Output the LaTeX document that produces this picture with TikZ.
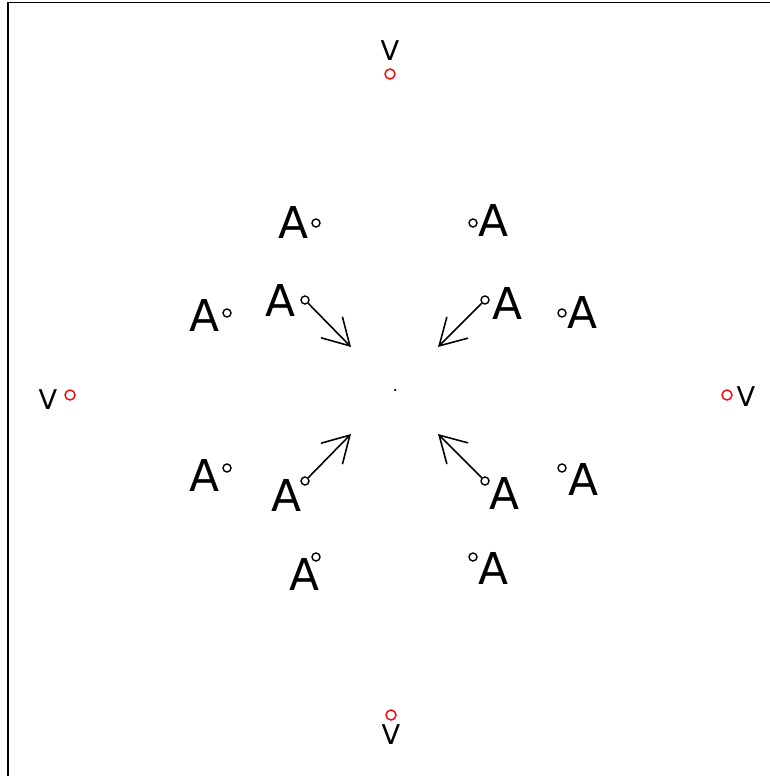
\documentclass[tikz,border=0pt]{standalone}
\usepackage{fontspec}
\setmainfont{DejaVu Sans}
\usetikzlibrary{arrows.meta}

\begin{document}
\begin{tikzpicture}[x=0.02cm, y=-0.02cm,
  vpoint/.style={circle, draw=red, line width=0.8pt, inner sep=0pt, minimum size=0.2cm},
  apoint/.style={circle, draw, line width=0.8pt, inner sep=0pt, minimum size=0.16cm},
  vlabel/.style={inner sep=0pt, font=\fontsize{15.5}{18}\selectfont},
  alabel/.style={inner sep=0pt, font=\fontsize{25}{30}\selectfont},
  pusharrow/.style={-{Straight Barb[length=0.52cm, width=0.6cm, line width=0.9pt]}, line width=0.9pt}
]
  \useasboundingbox (0,0) rectangle (769,776);
  \draw[line width=0.8pt] (8,780) -- (8,2.5) -- (772,2.5);

  % centre
  \fill (395,390) circle (0.025cm);

  % V points
  \node[vpoint] (vtop) at (390,74) {};
  \node[vlabel] (vtoplbl) at (390,51) {V};
  \node[vpoint] (vleft) at (70,395) {};
  \node[vlabel] (vleftlbl) at (48,400) {V};
  \node[vpoint] (vright) at (727,395) {};
  \node[vlabel] (vrightlbl) at (746,397) {V};
  \node[vpoint] (vbot) at (391,715) {};
  \node[vlabel] (vbotlbl) at (391,735) {V};

  % A points
  \node[apoint] (a1) at (316,223) {};
  \node[alabel] (a1lbl) at (294,222) {A};
  \node[apoint] (a2) at (473,223) {};
  \node[alabel] (a2lbl) at (494,220) {A};
  \node[apoint] (a3) at (227,313) {};
  \node[alabel] (a3lbl) at (205,315) {A};
  \node[apoint] (a4) at (305,300) {};
  \node[alabel] (a4lbl) at (281,300) {A};
  \node[apoint] (a5) at (485,300) {};
  \node[alabel] (a5lbl) at (508,303) {A};
  \node[apoint] (a6) at (562,313) {};
  \node[alabel] (a6lbl) at (583,312) {A};
  \node[apoint] (a7) at (227,468) {};
  \node[alabel] (a7lbl) at (205,475) {A};
  \node[apoint] (a8) at (305,481) {};
  \node[alabel] (a8lbl) at (287,495) {A};
  \node[apoint] (a9) at (485,481) {};
  \node[alabel] (a9lbl) at (505,493) {A};
  \node[apoint] (a10) at (562,468) {};
  \node[alabel] (a10lbl) at (584,479) {A};
  \node[apoint] (a11) at (316,557) {};
  \node[alabel] (a11lbl) at (305,574) {A};
  \node[apoint] (a12) at (473,557) {};
  \node[alabel] (a12lbl) at (494,568) {A};

  % arrow tips
  \coordinate (t4) at (351,347);
  \coordinate (t5) at (438,347);
  \coordinate (t8) at (351,434);
  \coordinate (t9) at (438,434);

  \draw[pusharrow] (a4) -- (t4);
  \draw[pusharrow] (a5) -- (t5);
  \draw[pusharrow] (a8) -- (t8);
  \draw[pusharrow] (a9) -- (t9);
\end{tikzpicture}
\end{document}
